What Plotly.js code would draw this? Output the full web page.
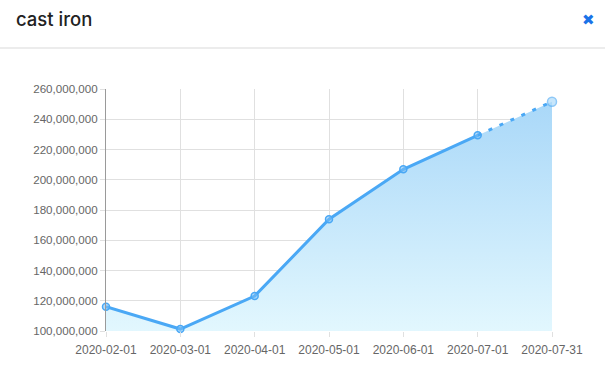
<!DOCTYPE html>
<html>
<head>
<meta charset="utf-8">
<script src="https://cdn.plot.ly/plotly-3.0.1.min.js"></script>
<style>
html,body{margin:0;padding:0;background:#fff;}
#chart{width:605px;height:387px;}
</style>
</head>
<body>
<div id="chart"></div>
<script>
const chartTitle = "cast iron";
const categories = ["2020-02-01","2020-03-01","2020-04-01","2020-05-01","2020-06-01","2020-07-01","2020-07-31"];
const values = [116100000, 101300000, 123100000, 173900000, 206900000, 229400000, 251600000];
const forecastStart = 5; // last solid point index; remainder dashed
const yTickMin = 100000000, yTickMax = 260000000, yTickStep = 20000000;

const lineColor = "#4aa8f5";
const fillTrace = {
  x: categories, y: values, type: "scatter", mode: "lines",
  line: {width: 0, color: "rgba(0,0,0,0)"},
  fill: "tozeroy",
  fillgradient: {type: "vertical", start: yTickMin, stop: yTickMax,
    colorscale: [[0, "#e2f7fe"], [1, "#a6d6f8"]]},
  hoverinfo: "skip", showlegend: false
};
const solidTrace = {
  x: categories.slice(0, forecastStart + 1), y: values.slice(0, forecastStart + 1),
  type: "scatter", mode: "lines+markers", cliponaxis: false,
  line: {color: lineColor, width: 3},
  marker: {symbol: "circle", size: 7, color: "rgba(120,190,245,0.55)", line: {color: lineColor, width: 1.5}},
  showlegend: false
};
const dashTrace = {
  x: categories.slice(forecastStart), y: values.slice(forecastStart),
  type: "scatter", mode: "lines+markers", cliponaxis: false,
  line: {color: lineColor, width: 3, dash: "4px,8px"},
  marker: {symbol: "circle", size: [0, 9], color: "rgba(176,220,250,1)", line: {color: "#5fb2f5", width: 1.5}},
  showlegend: false
};

const L = 106, R = 552, T = 89, B = 331, W = 605, H = 387;
const pw = R - L, ph = B - T;

const layout = {
  width: W, height: H,
  margin: {l: L, r: W - R, t: T, b: H - B, pad: 0},
  paper_bgcolor: "#fff", plot_bgcolor: "#fff",
  font: {family: "Liberation Sans, Arial, sans-serif", size: 11, color: "#666"},
  title: {text: chartTitle, xref: "container", yref: "container", x: 16 / W, xanchor: "left",
          y: 1 - 20 / H, yanchor: "middle",
          font: {family: "Inter, Roboto, sans-serif", size: 18.5, color: "#222", weight: 500}},
  xaxis: {type: "category", range: [0, categories.length - 1], showgrid: true, gridcolor: "#e0e0e0", gridwidth: 1,
          ticks: "outside", ticklen: 5, tickcolor: "#e0e0e0", showline: false, zeroline: false,
          ticklabelstandoff: 3,
          tickfont: {size: 12, color: "#666"}, fixedrange: true},
  yaxis: {range: [yTickMin, yTickMax], tick0: yTickMin, dtick: yTickStep, tickformat: ",d",
          showgrid: true, gridcolor: "#e0e0e0", gridwidth: 1,
          ticks: "outside", ticklen: 5, tickcolor: "#e0e0e0",
          showline: true, linecolor: "#9a9a9a", linewidth: 1, zeroline: false,
          tickfont: {size: 11.6, color: "#666"}, fixedrange: true},
  shapes: [{type: "line", xref: "paper", yref: "paper",
            x0: -L / pw, x1: (W - L) / pw, y0: (B - 48) / ph, y1: (B - 48) / ph,
            line: {color: "#d9d9d9", width: 1}}],
  annotations: [{text: "✖", xref: "paper", yref: "paper", x: (588 - L) / pw, y: (B - 20) / ph,
                 xanchor: "center", yanchor: "middle", showarrow: false,
                 font: {family: "DejaVu Sans, sans-serif", size: 15, color: "#1a73e8"}}]
};

Plotly.newPlot("chart", [fillTrace, solidTrace, dashTrace], layout, {displayModeBar: false, staticPlot: true});
</script>
</body>
</html>
